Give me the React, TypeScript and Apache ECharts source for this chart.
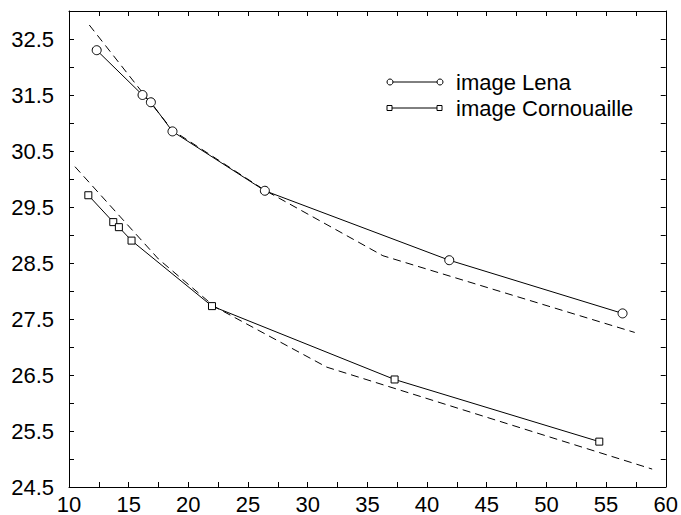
import React, { useEffect, useRef } from "react";
import * as echarts from "echarts";

// Measured points (x: rate-like value, y: PSNR)
const lenaX = [12.32, 16.16, 16.86, 18.67, 26.41, 41.86, 56.38];
const lenaY = [32.3, 31.5, 31.37, 30.85, 29.79, 28.55, 27.6];
const cornX = [11.62, 13.71, 14.18, 15.24, 21.98, 37.28, 54.43];
const cornY = [29.71, 29.23, 29.14, 28.9, 27.73, 26.42, 25.31];
// Model (dashed) curves
const lenaModelX = [11.7, 16.5, 18.67, 26.4, 36.3, 57.4];
const lenaModelY = [32.75, 31.45, 30.87, 29.8, 28.63, 27.26];
const cornModelX = [10.5, 17.5, 22.2, 31.6, 58.86];
const cornModelY = [30.22, 28.57, 27.72, 26.64, 24.82];
const legendNames = ["image Lena", "image Cornouaille"];

const zip = (xs: number[], ys: number[]) => xs.map((x, i) => [x, ys[i]]);

export default function App() {
  const ref = useRef<HTMLDivElement>(null);
  useEffect(() => {
    if (!ref.current) return;
    const chart = echarts.init(ref.current, null, { renderer: "svg" });
    const font = "Liberation Sans, Arial, Helvetica, sans-serif";
    const axisCommon = {
      axisLine: { show: true, lineStyle: { color: "#000", width: 1 } },
      axisTick: { show: true, inside: true, length: 5, lineStyle: { color: "#000", width: 1 } },
      splitLine: { show: false },
    };
    const xBase = { type: "value", min: 10, max: 60, interval: 2.5, ...axisCommon };
    const yBase = { type: "value", min: 24.5, max: 33, interval: 0.5, ...axisCommon };
    const lineStyle = { color: "#000", width: 1 };
    chart.setOption({
      animation: false,
      backgroundColor: "#fff",
      grid: { left: 69, right: 13, top: 11, bottom: 28, containLabel: false },
      xAxis: [
        {
          ...xBase,
          position: "bottom",
          axisLabel: {
            color: "#000",
            fontFamily: font,
            fontSize: 22,
            margin: 6,
            formatter: (v: number) => (Math.abs(v % 5) < 1e-6 ? String(v) : ""),
          },
        },
        { ...xBase, position: "top", axisLabel: { show: false } },
      ],
      yAxis: [
        {
          ...yBase,
          position: "left",
          axisLabel: {
            color: "#000",
            fontFamily: font,
            fontSize: 22,
            margin: 15,
            formatter: (v: number) =>
              Math.abs((v - 24.5) % 1) < 1e-6 && v < 32.9 ? v.toFixed(1) : "",
          },
        },
        { ...yBase, position: "right", axisLabel: { show: false } },
      ],
      series: [
        {
          name: legendNames[0],
          type: "line",
          data: zip(lenaX, lenaY),
          symbol: "circle",
          symbolSize: 9,
          lineStyle,
          itemStyle: { color: "#fff", borderColor: "#000", borderWidth: 1 },
          z: 3,
        },
        {
          name: legendNames[1],
          type: "line",
          data: zip(cornX, cornY),
          symbol: "rect",
          symbolSize: 7,
          lineStyle,
          itemStyle: { color: "#fff", borderColor: "#000", borderWidth: 1 },
          z: 3,
        },
        {
          name: "model Lena",
          type: "line",
          data: zip(lenaModelX, lenaModelY),
          showSymbol: false,
          symbol: "none",
          lineStyle: { color: "#000", width: 1, type: [8, 5] },
          z: 2,
        },
        {
          name: "model Cornouaille",
          type: "line",
          data: zip(cornModelX, cornModelY),
          showSymbol: false,
          symbol: "none",
          lineStyle: { color: "#000", width: 1, type: [8, 5] },
          z: 2,
        },
      ],
      graphic: [
        { type: "line", shape: { x1: 387, y1: 82, x2: 440, y2: 82 }, style: { stroke: "#000", lineWidth: 1 } },
        { type: "circle", shape: { cx: 390, cy: 82, r: 3 }, style: { fill: "#fff", stroke: "#000", lineWidth: 1 } },
        { type: "circle", shape: { cx: 440, cy: 82, r: 3 }, style: { fill: "#fff", stroke: "#000", lineWidth: 1 } },
        {
          type: "text",
          x: 456,
          y: 82,
          style: { text: legendNames[0], fill: "#000", font: `22px ${font}`, verticalAlign: "middle" },
        },
        { type: "line", shape: { x1: 387, y1: 108, x2: 440, y2: 108 }, style: { stroke: "#000", lineWidth: 1 } },
        { type: "rect", shape: { x: 387, y: 105.5, width: 5, height: 5 }, style: { fill: "#fff", stroke: "#000", lineWidth: 1 } },
        { type: "rect", shape: { x: 437, y: 105.5, width: 5, height: 5 }, style: { fill: "#fff", stroke: "#000", lineWidth: 1 } },
        {
          type: "text",
          x: 456,
          y: 108,
          style: { text: legendNames[1], fill: "#000", font: `22px ${font}`, verticalAlign: "middle" },
        },
      ],
    });
    return () => chart.dispose();
  }, []);
  return (
    <div
      ref={ref}
      style={{ position: "fixed", left: 0, top: 0, width: 681, height: 515, background: "#fff" }}
    />
  );
}
